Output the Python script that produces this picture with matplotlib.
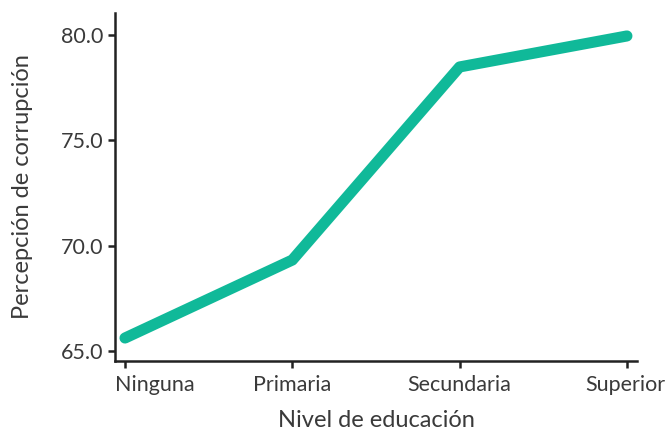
import numpy as np
from matplotlib import pyplot as plt
from matplotlib import transforms

niveles = ["Ninguna", "Primaria", "Secundaria", "Superior"]
percepcion = [65.62, 69.32, 78.48, 79.95]
yticks = [65.0, 70.0, 75.0, 80.0]

plt.rcParams["font.family"] = ["Lato", "DejaVu Sans"]

fig = plt.figure(figsize=(6.7, 4.33), dpi=100)
ax = fig.add_axes([0.1716, 0.1663, 0.7791, 0.8037])

x = np.arange(len(niveles))
ax.plot(x, percepcion, color="#10b999", linewidth=8, solid_capstyle="round",
        solid_joinstyle="round")

ax.set_xlim(-0.06, 3.06)
ax.set_ylim(64.53, 81.04)
ax.set_xticks(x)
ax.set_xticklabels(niveles)
ax.set_yticks(yticks)
ax.set_yticklabels([f"{v:.1f}" for v in yticks])

for s in ["top", "right"]:
    ax.spines[s].set_visible(False)
for s in ["left", "bottom"]:
    ax.spines[s].set_linewidth(1.8)
    ax.spines[s].set_color("#222222")

ax.tick_params(axis="both", length=5, width=1.8, color="#222222",
               labelsize=15.5, labelcolor="#3a3a3a", pad=3)
ax.tick_params(axis="x", pad=5)

# first and last labels are kept inside the plot width
labels = ax.get_xticklabels()
labels[0].set_horizontalalignment("left")
labels[0].set_transform(labels[0].get_transform() +
                        transforms.ScaledTranslation(-0.10, 0, fig.dpi_scale_trans))
labels[-1].set_horizontalalignment("right")
labels[-1].set_transform(labels[-1].get_transform() +
                         transforms.ScaledTranslation(0.38, 0, fig.dpi_scale_trans))

ax.set_xlabel("Nivel de educación", fontsize=17, color="#3a3a3a", labelpad=11)
ax.set_ylabel("Percepción de corrupción", fontsize=17, color="#3a3a3a", labelpad=20)

fig.savefig("out.png", dpi=100)
